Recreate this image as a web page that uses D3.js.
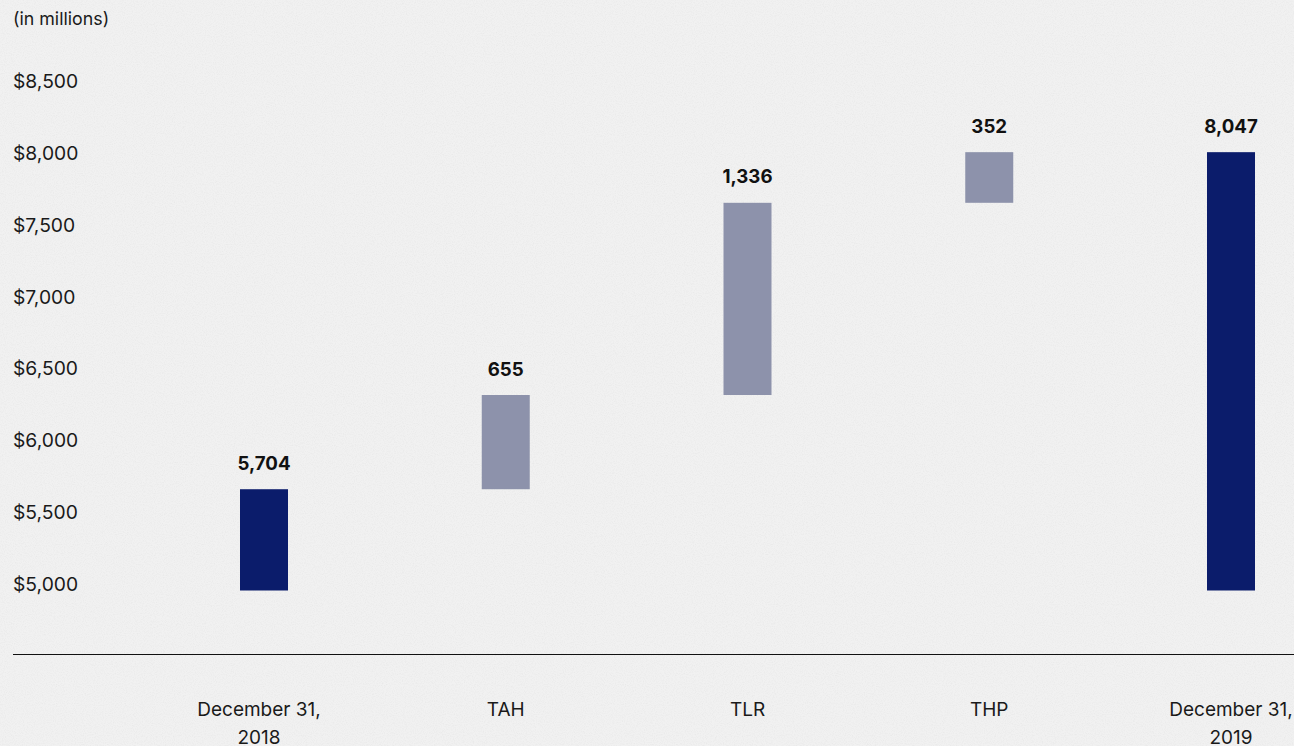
<!DOCTYPE html>
<html><head><meta charset="utf-8">
<script src="https://cdn.jsdelivr.net/npm/d3@7"></script>
<style>html,body{margin:0;padding:0;background:#f1f1f1;}svg{display:block;}</style>
</head><body>
<svg id="c" width="1294" height="746"></svg>
<script>
const categories = [["December 31,", "2018"], ["TAH"], ["TLR"], ["THP"], ["December 31,", "2019"]];
const values = [5704, 655, 1336, 352, 8047];
const kinds = ["total", "delta", "delta", "delta", "total"];
const valueLabels = ["5,704", "655", "1,336", "352", "8,047"];
const yTicks = [5000, 5500, 6000, 6500, 7000, 7500, 8000, 8500];
const yTickLabels = ["$5,000", "$5,500", "$6,000", "$6,500", "$7,000", "$7,500", "$8,000", "$8,500"];
const unitLabel = "(in millions)";

const svg = d3.select("#c");
const W = 1294, H = 746;
const font = "Inter, 'Open Sans', sans-serif";

const defs = svg.append("defs");
const f = defs.append("filter").attr("id", "noise").attr("x", 0).attr("y", 0).attr("width", "100%").attr("height", "100%");
f.append("feTurbulence").attr("type", "fractalNoise").attr("baseFrequency", 0.9).attr("numOctaves", 2).attr("seed", 3).attr("result", "n");
f.append("feColorMatrix").attr("type", "matrix")
  .attr("values", "0 0 0 0 0.6  0 0 0 0 0.6  0 0 0 0 0.6  0 0 0 -1.6 0.95");
svg.append("rect").attr("width", W).attr("height", H).attr("fill", "#f1f1f1");
svg.append("rect").attr("width", W).attr("height", H).attr("filter", "url(#noise)").attr("opacity", 0.25);

const ids = categories.map((c, i) => i);
const x = d3.scalePoint().domain(ids).range([264, 1231]);
const y = d3.scaleLinear().domain([5000, 8500]).range([590.5, 87]);
const barW = 48;

let run = 0;
const spans = values.map((v, i) => {
  if (kinds[i] === "total") { run = v; return [5000, v]; }
  const s = [run, run + v]; run += v; return s;
});

svg.append("text").attr("x", 13).attr("y", 19).attr("dy", "0.35em").attr("font-family", font).attr("font-size", 17.8)
  .attr("fill", "#1a1a1a").text(unitLabel);

svg.append("g").selectAll("text").data(yTicks).join("text")
  .attr("x", 13).attr("y", d => y(d) - 6).attr("dy", "0.35em")
  .attr("font-family", font).attr("font-size", 19.3).attr("fill", "#1a1a1a")
  .text((d, i) => yTickLabels[i]);

svg.append("g").selectAll("rect").data(spans).join("rect")
  .attr("x", (d, i) => x(i) - barW / 2).attr("width", barW)
  .attr("y", d => y(d[1])).attr("height", d => y(d[0]) - y(d[1]))
  .attr("fill", (d, i) => kinds[i] === "total" ? "#0b1c6b" : "#8d92ab");

svg.append("g").selectAll("text").data(spans).join("text")
  .attr("x", (d, i) => x(i)).attr("y", d => y(d[1]) - 26).attr("dy", "0.35em")
  .attr("text-anchor", "middle").attr("font-family", font).attr("font-weight", 700)
  .attr("font-size", 18.7).attr("fill", "#111")
  .text((d, i) => valueLabels[i]);

svg.append("line").attr("x1", 13).attr("x2", W).attr("y1", 654.5).attr("y2", 654.5)
  .attr("stroke", "#111").attr("stroke-width", 1.2);

const cg = svg.append("g").selectAll("text").data(categories).join("text")
  .attr("text-anchor", "middle").attr("font-family", font).attr("font-size", 19).attr("fill", "#1a1a1a");
cg.selectAll("tspan").data((d, i) => d.map(t => ({t, i}))).join("tspan")
  .attr("x", d => x(d.i) - (d.i === 0 ? 5 : 0))
  .attr("y", (d, j) => 709 + j * 28).attr("dy", "0.35em").text(d => d.t);
</script>
</body></html>
